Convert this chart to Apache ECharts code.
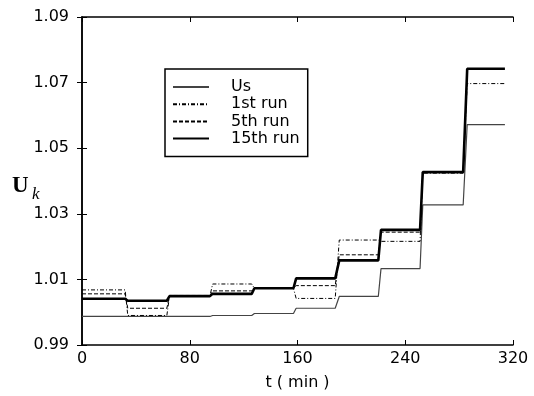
<!DOCTYPE html>
<html>
<head>
<meta charset="utf-8">
<script src="https://cdn.jsdelivr.net/npm/echarts@6/dist/echarts.min.js"></script>
<style>
  html, body { margin: 0; padding: 0; background: #fff; }
  #chart { width: 534px; height: 396px; }
</style>
</head>
<body>
<div id="chart"></div>
<script>
// time points (min): each step has a start and an end of its short ramp
const times = [0, 32, 34, 63, 65, 95, 97, 126, 128, 157, 159, 188, 191, 220, 222, 251, 253, 283, 286, 314];

const usValues = [0.9987, 0.9987, 0.9987, 0.9987, 0.9987, 0.9987, 0.9990, 0.9990, 0.9996, 0.9996,
  1.0012, 1.0012, 1.0048, 1.0048, 1.0133, 1.0133, 1.0327, 1.0327, 1.0572, 1.0572];
const firstRun = [1.0068, 1.0068, 0.9990, 0.9990, 1.0050, 1.0050, 1.0086, 1.0086, 1.0073, 1.0073,
  1.0042, 1.0042, 1.0220, 1.0220, 1.0216, 1.0216, 1.0424, 1.0424, 1.0697, 1.0697];
const fifthRun = [1.0056, 1.0056, 1.0012, 1.0012, 1.0051, 1.0051, 1.0065, 1.0065, 1.0074, 1.0074,
  1.0081, 1.0081, 1.0175, 1.0175, 1.0244, 1.0244, 1.0428, 1.0428, 1.0742, 1.0742];
const fifteenthRun = [1.0041, 1.0041, 1.0035, 1.0035, 1.0049, 1.0049, 1.0056, 1.0056, 1.0073, 1.0073,
  1.0103, 1.0103, 1.0158, 1.0158, 1.0251, 1.0251, 1.0427, 1.0427, 1.0742, 1.0742];

const xTicks = [0, 80, 160, 240, 320];
const yTicks = [0.99, 1.01, 1.03, 1.05, 1.07, 1.09];

const font = "DejaVu Sans";
const pairs = (values) => times.map((t, i) => [t, values[i]]);

const chart = echarts.init(document.getElementById("chart"), null, { renderer: "canvas" });

const axisLine = { lineStyle: { color: "#000", width: 1.5 } };
const tick = { inside: true, length: 5, lineStyle: { color: "#000", width: 1 } };
// hides the circle that line series put in their legend icon
const noSymbol = { color: "#000", opacity: 0 };

chart.setOption({
  animation: false,
  backgroundColor: "#fff",
  grid: { left: 82, right: 21, top: 17, bottom: 47, show: false },
  legend: {
    orient: "vertical",
    left: 165,
    top: 69,
    itemWidth: 36,
    itemHeight: 14,
    itemGap: 1.2,
    padding: [10, 8, 10, 7],
    borderColor: "#000",
    borderWidth: 1.5,
    backgroundColor: "#fff",
    itemStyle: { opacity: 0 },
    textStyle: { fontFamily: font, fontSize: 16, color: "#000", padding: [0, 0, 0, 17], lineHeight: 14 },
    data: ["Us", "1st run", "5th run", "15th run"]
  },
  xAxis: [
    {
      type: "value",
      min: 0,
      max: 320,
      interval: 80,
      position: "bottom",
      name: "t ( min )",
      nameLocation: "middle",
      nameGap: 30,
      nameTextStyle: { fontFamily: font, fontSize: 16, color: "#000" },
      axisLine,
      axisTick: tick,
      splitLine: { show: false },
      axisLabel: { fontFamily: font, fontSize: 16, color: "#000", margin: 6, customValues: xTicks }
    },
    {
      type: "value",
      min: 0,
      max: 320,
      interval: 80,
      position: "top",
      axisLine,
      axisTick: tick,
      splitLine: { show: false },
      axisLabel: { show: false }
    }
  ],
  yAxis: [
    {
      type: "value",
      min: 0.99,
      max: 1.09,
      position: "left",
      axisLine,
      axisTick: Object.assign({ customValues: yTicks }, tick),
      splitLine: { show: false },
      axisLabel: {
        fontFamily: font,
        fontSize: 16,
        color: "#000",
        margin: 13,
        customValues: yTicks,
        formatter: (v) => v.toFixed(2)
      }
    },
    {
      type: "value",
      min: 0.99,
      max: 1.09,
      position: "right",
      axisLine,
      axisTick: Object.assign({ customValues: yTicks }, tick),
      splitLine: { show: false },
      axisLabel: { show: false, customValues: yTicks }
    }
  ],
  graphic: [
    {
      type: "text",
      left: 12,
      top: 175,
      style: { text: "U", fontFamily: "Liberation Serif", fontWeight: "bold", fontSize: 23, fill: "#000" }
    },
    {
      type: "text",
      left: 32,
      top: 186,
      style: { text: "k", fontFamily: "Liberation Serif", fontStyle: "italic", fontSize: 17, fill: "#000" }
    }
  ],
  series: [
    {
      name: "Us",
      type: "line",
      data: pairs(usValues),
      symbol: "none",
      lineStyle: { color: "#444", width: 1.2 },
      itemStyle: noSymbol
    },
    {
      name: "15th run",
      type: "line",
      data: pairs(fifteenthRun),
      symbol: "none",
      lineStyle: { color: "#000", width: 2.6 },
      itemStyle: noSymbol
    },
    {
      name: "5th run",
      type: "line",
      data: pairs(fifthRun),
      symbol: "none",
      lineStyle: { color: "#000", width: 1, type: [4, 2] },
      itemStyle: noSymbol
    },
    {
      name: "1st run",
      type: "line",
      data: pairs(firstRun),
      symbol: "none",
      lineStyle: { color: "#000", width: 1, type: [4, 2, 1, 2] },
      itemStyle: noSymbol
    }
  ]
});
</script>
</body>
</html>
